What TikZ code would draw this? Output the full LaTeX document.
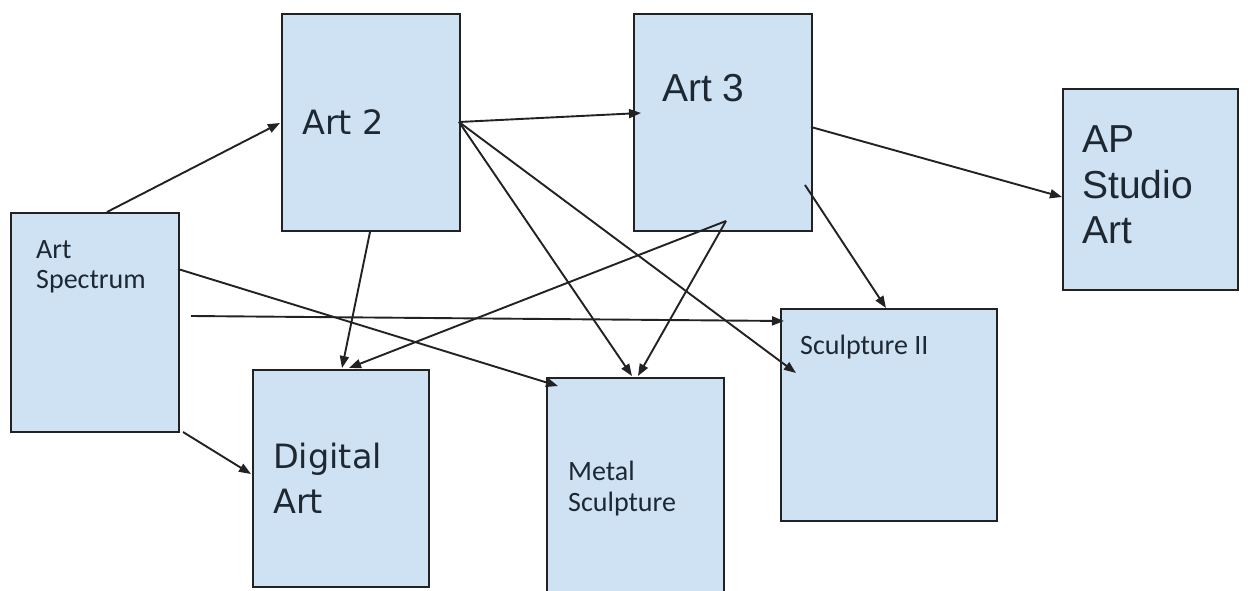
\documentclass[tikz,border=0pt]{standalone}
\usepackage{fontspec}
\newfontfamily\carl{Carlito}
\newfontfamily\dvs{DejaVu Sans}
\newfontfamily\lib{Liberation Sans}
\usetikzlibrary{arrows.meta,calc}
\definecolor{boxfill}{HTML}{CFE2F3}
\definecolor{edge}{HTML}{222222}
\definecolor{ink}{HTML}{1E2833}
\tikzset{
  box/.style={draw=edge, line width=2pt, fill=boxfill, anchor=north west, inner sep=0pt},
  lbl/.style={anchor=base west, inner sep=0pt, text=ink},
  carlt/.style={lbl, font=\carl\fontsize{28pt}{30pt}\selectfont},
  dvst/.style={lbl, font=\dvs\fontsize{33.5pt}{40pt}\selectfont},
  libt/.style={lbl, font=\lib\fontsize{39pt}{45pt}\selectfont},
  conn/.style={draw=edge, line width=1.9pt, -{Triangle[length=12pt,width=9pt]}}
}
\begin{document}
\begin{tikzpicture}[x=1pt,y=-1pt]
\useasboundingbox (0,0) rectangle (1248,591);
\fill[white] (0,0) rectangle (1248,591);
\clip (0,0) rectangle (1248,591);
% boxes
\node[box, minimum width=168pt, minimum height=219pt] (sp) at (10,212) {};
\node[box, minimum width=178pt, minimum height=217pt] (a2) at (281,13) {};
\node[box, minimum width=178pt, minimum height=217pt] (a3) at (633,13) {};
\node[box, minimum width=175pt, minimum height=201pt] (ap) at (1062,88) {};
\node[box, minimum width=176pt, minimum height=217pt] (da) at (252,369) {};
\node[box, minimum width=177pt, minimum height=260pt] (ms) at (546,377) {};
\node[box, minimum width=216pt, minimum height=212pt] (s2) at (780,308) {};
% texts
\node[carlt] (spt1) at (36,258) {Art};
\node[carlt] (spt2) at (36,288) {Spectrum};
\node[dvst] (a2t) at (302,135) {Art 2};
\node[libt] (a3t) at (662,102) {Art 3};
\node[libt] (apt1) at (1082,153) {AP};
\node[libt] (apt2) at (1082,198) {Studio};
\node[libt] (apt3) at (1082,243) {Art};
\node[dvst] (dat1) at (273,468) {Digital};
\node[dvst] (dat2) at (273,513) {Art};
\node[carlt] (mst1) at (568,480) {Metal};
\node[carlt] (mst2) at (568,511) {Sculpture};
\node[carlt] (s2t) at (800,354) {Sculpture II};
% connectors
\draw[conn] ($(sp.north west)+(97,0)$) -- ($(a2.north west)+(-1,110)$);
\draw[conn] ($(a2.north west)+(89,219)$) -- ($(da.north west)+(90,-1)$);
\draw[conn] ($(a2.north west)+(178,109)$) -- ($(a3.north west)+(8,100)$);
\draw[conn] ($(a2.north west)+(178,109)$) -- ($(ms.north west)+(86,-1)$);
\draw[conn] ($(a2.north west)+(178,109)$) -- ($(s2.north west)+(16,65)$);
\draw[conn] ($(a3.north west)+(93,208)$) -- ($(da.north west)+(97,-1)$);
\draw[conn] ($(a3.north west)+(93,208)$) -- ($(ms.north west)+(92,-1)$);
\draw[conn] ($(a3.north west)+(178,114)$) -- ($(ap.north west)+(0,109)$);
\draw[conn] ($(a3.north west)+(172,172)$) -- ($(s2.north west)+(106,0)$);
\draw[conn] ($(sp.north west)+(168,57)$) -- ($(ms.north west)+(12,9)$);
\draw[conn] ($(sp.north west)+(181,104)$) -- ($(s2.north west)+(4,13)$);
\draw[conn] ($(sp.north west)+(173,220)$) -- ($(da.north west)+(-1,105)$);
\end{tikzpicture}
\end{document}
